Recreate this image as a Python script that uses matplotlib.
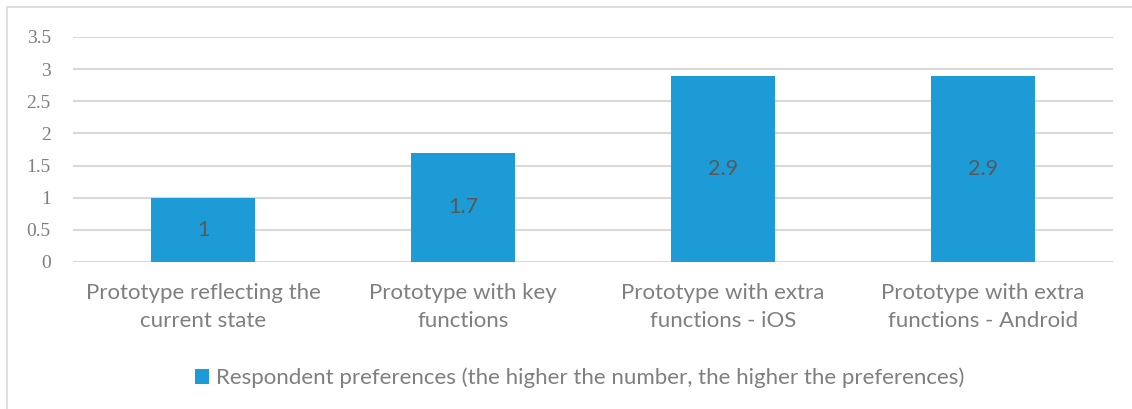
import matplotlib
matplotlib.use("Agg")
import matplotlib.pyplot as plt
from matplotlib.patches import Rectangle

categories = [
    "Prototype reflecting the\ncurrent state",
    "Prototype with key\nfunctions",
    "Prototype with extra\nfunctions - iOS",
    "Prototype with extra\nfunctions - Android",
]
values = [1, 1.7, 2.9, 2.9]
value_labels = ["1", "1.7", "2.9", "2.9"]
yticks = [0, 0.5, 1, 1.5, 2, 2.5, 3, 3.5]
ytick_labels = ["0", "0.5", "1", "1.5", "2", "2.5", "3", "3.5"]
series_name = "Respondent preferences (the higher the number, the higher the preferences)"

BAR = "#1C9BD7"
GRID = "#D9D9D9"
TEXT = "#7F7F7F"

fig = plt.figure(figsize=(11.32, 4.09), dpi=100)
fig.patches.append(Rectangle((7 / 1132, -0.1), 1.2, (1 - 7 / 409) + 0.1,
                             transform=fig.transFigure, fill=False,
                             edgecolor=GRID, linewidth=1.2))

ax = fig.add_axes([73 / 1132, 1 - 262 / 409, 1040 / 1132, 225 / 409])
x = range(len(categories))
bars = ax.bar(x, values, width=0.4, color=BAR, zorder=3, label=series_name)
ax.set_xlim(-0.5, len(categories) - 0.5)
ax.set_ylim(0, 3.5)

for b, lab in zip(bars, value_labels):
    ax.text(b.get_x() + b.get_width() / 2, b.get_height() / 2, lab,
            ha="center", va="center", color="#595959", fontsize=15.5,
            family="Lato", zorder=4)

ax.set_yticks(yticks)
ax.set_yticklabels(ytick_labels, family="Liberation Serif", fontsize=14, color=TEXT)
ax.set_xticks(list(x))
ax.set_xticklabels(categories, family="Lato", fontsize=16, color=TEXT, linespacing=1.5)
ax.tick_params(axis="both", length=0)
ax.tick_params(axis="y", pad=16)
ax.tick_params(axis="x", pad=15)
ax.grid(axis="y", color=GRID, linewidth=1.5, zorder=0)
for s in ax.spines.values():
    s.set_visible(False)

fig.legend(handles=[bars], labels=[series_name], loc="center",
           bbox_to_anchor=(580 / 1132, 1 - 378 / 409), frameon=False,
           prop={"family": "Lato", "size": 16}, labelcolor=TEXT,
           handlelength=0.6, handleheight=0.6, handletextpad=0.35)

fig.savefig("out.png", dpi=100)
